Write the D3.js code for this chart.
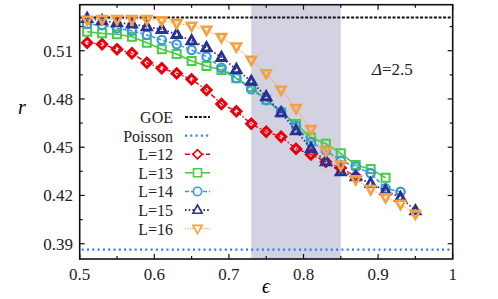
<!doctype html>
<html lang="en">
  <head>
    <title>Level spacing ratio r vs epsilon</title>
    <style>
      body { margin: 0; background: #fff; }
    </style>
  </head>
  <body>
    <div id="chart"></div>
    <script src="https://cdn.jsdelivr.net/npm/d3@7"></script>
    <script>
      // values
      const eps = [0.51, 0.53, 0.55, 0.57, 0.59, 0.61, 0.63, 0.65, 0.67, 0.69, 0.71, 0.73,
                   0.75, 0.77, 0.79, 0.81, 0.83, 0.85, 0.87, 0.89, 0.91, 0.93, 0.95]
      const r12 = [0.5150, 0.5140, 0.5109, 0.5084, 0.5025, 0.4991, 0.4959, 0.4922, 0.4856, 0.4769,
                   0.4723, 0.4646, 0.4596, 0.4565, 0.4490, 0.4455, 0.4410, 0.4370, 0.4320]
      const r13 = [0.5218, 0.5208, 0.5202, 0.5187, 0.5150, 0.5109, 0.5080, 0.5036, 0.5005, 0.4980,
                   0.4928, 0.4874, 0.4795, 0.4716, 0.4645, 0.4560, 0.4522, 0.4462, 0.4390, 0.4365, 0.4310]
      const r14 = [0.5266, 0.5260, 0.5239, 0.5224, 0.5198, 0.5167, 0.5140, 0.5104, 0.5063, 0.4994,
                   0.4930, 0.4860, 0.4793, 0.4721, 0.4632, 0.4530, 0.4480, 0.4416, 0.4379, 0.4338, 0.4244, 0.4223]
      const r15 = [0.5301, 0.5287, 0.5274, 0.5266, 0.5249, 0.5233, 0.5202, 0.5162, 0.5119, 0.5059,
                   0.4984, 0.4910, 0.4814, 0.4715, 0.4603, 0.4493, 0.4410, 0.4348, 0.4317, 0.4275, 0.4230, 0.4188, 0.4105]
      const r16 = [0.5291, 0.5295, 0.5295, 0.5295, 0.5295, 0.5287, 0.5270, 0.5254, 0.5229, 0.5183,
                   0.5125, 0.5042, 0.4959, 0.4856, 0.4742, 0.4611, 0.4478, 0.4389, 0.4300, 0.4238, 0.4188, 0.4147, 0.4085]
      const goe = 0.5307
      const poisson = 0.3863
      const band = [0.73, 0.85]
      const xTicks = [0.5, 0.6, 0.7, 0.8, 0.9, 1]
      const xMinor = [0.55, 0.65, 0.75, 0.85, 0.95]
      const yTicks = [0.39, 0.42, 0.45, 0.48, 0.51]
      const yMinor = [0.405, 0.435, 0.465, 0.495, 0.525]
      const labels = ['L=12', 'L=13', 'L=14', 'L=15', 'L=16']

      const width = 498
      const height = 299
      const mLeft = 79.7, mRight = 452.7, mTop = 4.7, mBottom = 259
      const serif = '"Liberation Serif", "DejaVu Serif", "Times New Roman", serif'

      const x = d3.scaleLinear().domain([0.5, 1]).range([mLeft, mRight])
      const y = d3.scaleLinear().domain([0.3805, 0.5386]).range([mBottom, mTop])

      const svg = d3.select('#chart').append('svg')
        .attr('width', width)
        .attr('height', height)
        .attr('font-family', serif)

      svg.append('rect')
        .attr('x', x(band[0]))
        .attr('y', mTop)
        .attr('width', x(band[1]) - x(band[0]))
        .attr('height', mBottom - mTop)
        .attr('fill', '#d2d2e2')

      // reference lines
      svg.append('line')
        .attr('x1', mLeft).attr('x2', mRight)
        .attr('y1', y(goe)).attr('y2', y(goe))
        .attr('stroke', '#111').attr('stroke-width', 2)
        .attr('stroke-dasharray', '3,1.6')
      svg.append('line')
        .attr('x1', mLeft + 2).attr('x2', mRight)
        .attr('y1', y(poisson)).attr('y2', y(poisson))
        .attr('stroke', '#2f7bef').attr('stroke-width', 2.2)
        .attr('stroke-dasharray', '2,3.3')

      const series = [
        { name: labels[0], values: r12, color: '#e8000b', dash: '5,2,1.5,2', lw: 1.4, shape: 'diamond', mw: 3 },
        { name: labels[1], values: r13, color: '#46cc46', dash: null, lw: 1.6, shape: 'square', mw: 2 },
        { name: labels[2], values: r14, color: '#3a9ad9', dash: '4,2', lw: 1.5, shape: 'circle', mw: 2.2 },
        { name: labels[3], values: r15, color: '#2b2f8f', dash: '1.5,2.2', lw: 1.8, shape: 'up', mw: 2.8 },
        { name: labels[4], values: r16, color: '#f6a040', dash: '1,1.4', lw: 1.1, shape: 'down', mw: 2.6 }
      ]

      function markerPath(shape) {
        if (shape === 'diamond') return 'M0,-4.6L4.6,0L0,4.6L-4.6,0Z'
        if (shape === 'square') return 'M-4,-4H4V4H-4Z'
        if (shape === 'up') return 'M0,-5L4.6,3.2H-4.6Z'
        if (shape === 'down') return 'M0,5L4.6,-3.2H-4.6Z'
        return 'M4.2,0A4.2,4.2 0 1,1 -4.2,0A4.2,4.2 0 1,1 4.2,0Z'
      }

      const line = d3.line()
        .x(d => x(d[0]))
        .y(d => y(d[1]))

      series.forEach(s => {
        const pts = s.values.map((v, i) => [eps[i], v])
        const g = svg.append('g')
        g.append('path')
          .datum(pts)
          .attr('d', line)
          .attr('fill', 'none')
          .attr('stroke', s.color)
          .attr('stroke-width', s.lw)
          .attr('stroke-dasharray', s.dash)
        g.selectAll('path.m').data(pts)
          .enter()
            .append('path')
              .attr('class', 'm')
              .attr('d', markerPath(s.shape))
              .attr('transform', d => `translate(${x(d[0])},${y(d[1])})`)
              .attr('fill', 'none')
              .attr('stroke', s.color)
              .attr('stroke-width', s.mw)
      })

      // frame with inward ticks on every side
      const axes = svg.append('g').attr('stroke', '#111')
      axes.append('rect')
        .attr('x', mLeft).attr('y', mTop)
        .attr('width', mRight - mLeft).attr('height', mBottom - mTop)
        .attr('fill', 'none').attr('stroke-width', 1.6)

      function ticks(vals, len) {
        vals.forEach(v => {
          axes.append('line').attr('x1', x(v)).attr('x2', x(v)).attr('y1', mBottom).attr('y2', mBottom - len).attr('stroke-width', 1.2)
          axes.append('line').attr('x1', x(v)).attr('x2', x(v)).attr('y1', mTop).attr('y2', mTop + len).attr('stroke-width', 1.2)
        })
      }
      function yticks(vals, len) {
        vals.forEach(v => {
          axes.append('line').attr('y1', y(v)).attr('y2', y(v)).attr('x1', mLeft).attr('x2', mLeft + len).attr('stroke-width', 1.2)
          axes.append('line').attr('y1', y(v)).attr('y2', y(v)).attr('x1', mRight).attr('x2', mRight - len).attr('stroke-width', 1.2)
        })
      }
      ticks(xTicks, 5)
      ticks(xMinor, 3)
      yticks(yTicks, 5)
      yticks(yMinor, 3)

      svg.selectAll('text.xt').data(xTicks)
        .enter()
          .append('text')
            .attr('x', d => x(d))
            .attr('y', 280)
            .attr('text-anchor', 'middle')
            .attr('font-size', 17)
            .attr('fill', '#222')
            .text(d => String(d))

      svg.selectAll('text.yt').data(yTicks)
        .enter()
          .append('text')
            .attr('x', 73)
            .attr('y', d => y(d) + 6)
            .attr('text-anchor', 'end')
            .attr('font-size', 17)
            .attr('fill', '#222')
            .text(d => d.toFixed(2))

      svg.append('text')
        .attr('x', 22).attr('y', 114)
        .attr('text-anchor', 'middle')
        .attr('font-size', 20).attr('font-style', 'italic')
        .text('r')
      svg.append('text')
        .attr('x', 266).attr('y', 293)
        .attr('text-anchor', 'middle')
        .attr('font-size', 20).attr('font-style', 'italic')
        .text('ϵ')

      const delta = svg.append('text')
        .attr('x', 372).attr('y', 75)
        .attr('font-size', 17)
        .attr('fill', '#222')
      delta.append('tspan').attr('font-style', 'italic').text('Δ')
      delta.append('tspan').text('=2.5')

      // legend
      const legend = svg.append('g')
      const rows = [
        { name: 'GOE', color: '#111', dash: '3,1.6', lw: 2 },
        { name: 'Poisson', color: '#2f7bef', dash: '2,3.3', lw: 2.2 }
      ].concat(series)
      rows.forEach((s, i) => {
        const ry = 117 + i * 18.6
        legend.append('text')
          .attr('x', 173).attr('y', ry + 6)
          .attr('text-anchor', 'end')
          .attr('font-size', 16)
          .attr('fill', '#222')
          .text(s.name)
        legend.append('line')
          .attr('x1', 185).attr('x2', 210)
          .attr('y1', ry).attr('y2', ry)
          .attr('stroke', s.color)
          .attr('stroke-width', s.lw)
          .attr('stroke-dasharray', s.dash)
        if (s.shape) {
          legend.append('path')
            .attr('d', markerPath(s.shape))
            .attr('transform', `translate(197.5,${ry})`)
            .attr('fill', 'white')
            .attr('stroke', s.color)
            .attr('stroke-width', 1.6)
        }
      })
    </script>
  </body>
</html>
